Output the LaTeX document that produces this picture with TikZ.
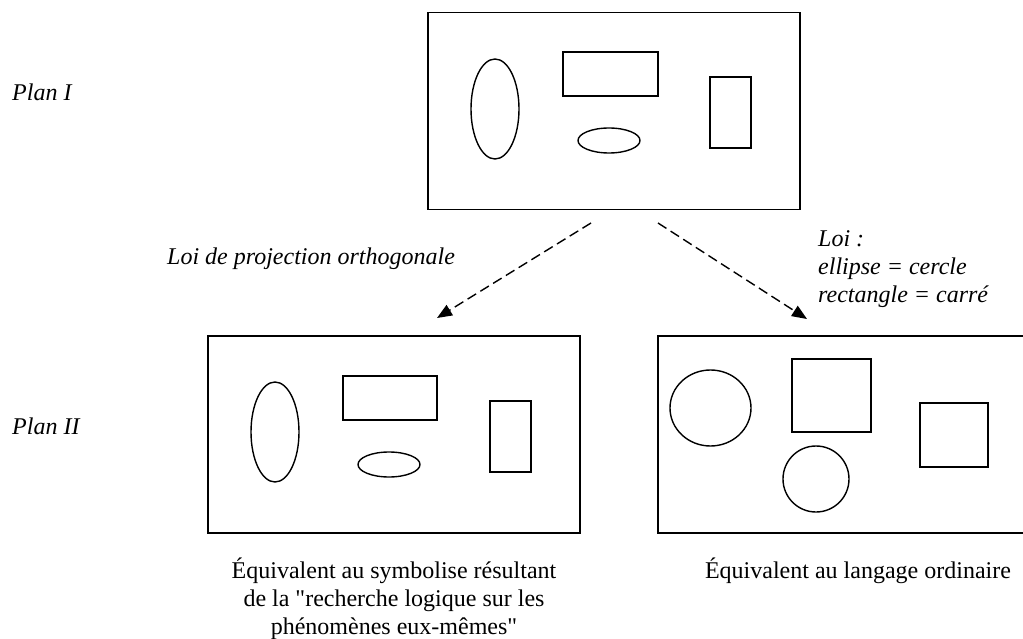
\documentclass[tikz,border=0pt]{standalone}
\usepackage{fontspec}
\setmainfont{Liberation Serif}
\usetikzlibrary{arrows.meta}
\tikzset{
  frame/.style={draw, line width=1.5pt, inner sep=0pt, minimum width=372pt, minimum height=197pt, anchor=north west},
  shp/.style={line width=1.4pt},
  proj/.style={line width=1.4pt, dash pattern=on 10pt off 5pt, -{Triangle[length=15pt,width=12pt]}},
  lbl/.style={inner sep=0pt, font=\fontsize{24}{28}\selectfont\itshape},
  captxt/.style={inner sep=0pt, font=\fontsize{24}{28}\selectfont},
}
\newcommand{\sq}{\XeTeXglyph\XeTeXcharglyph"22\relax}
\begin{document}
\begin{tikzpicture}[x=1pt,y=-1pt]
\useasboundingbox (0,0) rectangle (1023,639);
\clip (0,0) rectangle (1023,639);
% frames
\node[frame] (top) at (427,12) {};
\node[frame] (bl) at (207,335) {};
\node[frame] (br) at (657,335) {};
% top contents
\draw[shp] (495,109) ellipse [x radius=24, y radius=50];
\draw[shp] (563,52) rectangle (658,96);
\draw[shp] (609,140.5) ellipse [x radius=31, y radius=12.5];
\draw[shp] (710,77) rectangle (751,148);
% bottom left contents
\draw[shp] (275,432) ellipse [x radius=24, y radius=50];
\draw[shp] (343,376) rectangle (437,420);
\draw[shp] (389,464.5) ellipse [x radius=31, y radius=12.5];
\draw[shp] (490,401) rectangle (531,472);
% bottom right contents
\draw[shp] (710.5,408) ellipse [x radius=40.5, y radius=38];
\draw[shp] (792,359) rectangle (871,432);
\draw[shp] (816,479) ellipse [x radius=33, y radius=33];
\draw[shp] (920,403) rectangle (988,467);
% arrows
\coordinate (s1) at (591,223);
\coordinate (t1) at (437,318);
\coordinate (s2) at (658,223);
\coordinate (t2) at (807,319);
\draw[proj] (s1) -- (t1);
\draw[proj] (s2) -- (t2);
% labels
\node[lbl, anchor=base west] (p1) at (12,101) {Plan I};
\node[lbl, anchor=base west] (p2) at (12,434) {Plan II};
\node[lbl, anchor=base west] (l1) at (167,265) {Loi de projection orthogonale};
\node[lbl, anchor=base west] (r1) at (818,247) {Loi :};
\node[lbl, anchor=base west] (r2) at (818,274.5) {ellipse = cercle};
\node[lbl, anchor=base west] (r3) at (818,302) {rectangle = carré};
\node[captxt, anchor=base] (c1) at (394,578) {Équivalent au symbolise résultant};
\node[captxt, anchor=base] (c2) at (394,606) {de la \sq recherche logique sur les};
\node[captxt, anchor=base] (c3) at (394,634) {phénomènes eux-mêmes\sq};
\node[captxt, anchor=base] (d1) at (858,578) {Équivalent au langage ordinaire};
\end{tikzpicture}
\end{document}
